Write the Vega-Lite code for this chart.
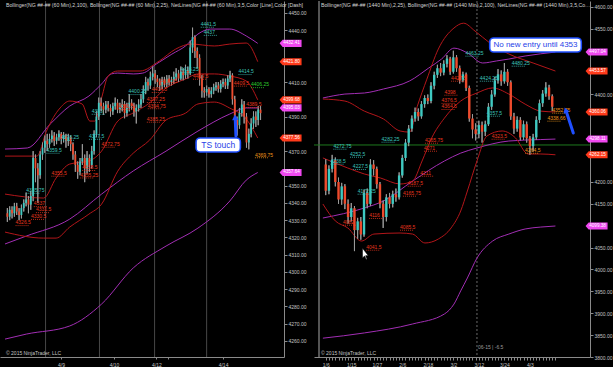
{
  "$schema": "https://vega.github.io/schema/vega-lite/v6.json",
  "background": "#000000",
  "padding": 0,
  "spacing": 6,
  "config": {
    "view": {"stroke": null, "fill": "#000000"},
    "axis": {"labelFont": "Liberation Sans", "labelFontSize": 5, "labelColor": "#c4c4c4", "domainColor": "#8a8a8a", "tickColor": "#8a8a8a", "grid": false, "labelOverlap": false, "labelSeparation": 0, "labelBound": false},
    "text": {"font": "Liberation Sans"}
  },
  "datasets": {
    "L": [
      {"i":0,"o":4334,"h":4337,"l":4329,"c":4332},{"i":1,"o":4332,"h":4338,"l":4330,"c":4336},{"i":2,"o":4336,"h":4338,"l":4331,"c":4334},{"i":3,"o":4334,"h":4340,"l":4332,"c":4338},{"i":4,"o":4338,"h":4340,"l":4333,"c":4335},{"i":5,"o":4335,"h":4337,"l":4330,"c":4333},{"i":6,"o":4333,"h":4339,"l":4331,"c":4337},{"i":7,"o":4337,"h":4342,"l":4335,"c":4340},{"i":8,"o":4340,"h":4346,"l":4338,"c":4342},{"i":9,"o":4342,"h":4344,"l":4334,"c":4339},
      {"i":10,"o":4339,"h":4347,"l":4336,"c":4344},{"i":11,"o":4344,"h":4370,"l":4341,"c":4366},{"i":12,"o":4366,"h":4368,"l":4352,"c":4360},{"i":13,"o":4360,"h":4363,"l":4340,"c":4356},{"i":14,"o":4356,"h":4370,"l":4354,"c":4368},{"i":15,"o":4368,"h":4375,"l":4365,"c":4372},{"i":16,"o":4372,"h":4379,"l":4369,"c":4376},{"i":17,"o":4376,"h":4380,"l":4370,"c":4374},{"i":18,"o":4374,"h":4380,"l":4372,"c":4377},{"i":19,"o":4377,"h":4382,"l":4375,"c":4379},
      {"i":20,"o":4379,"h":4381,"l":4373,"c":4376},{"i":21,"o":4376,"h":4380,"l":4374,"c":4378},{"i":22,"o":4378,"h":4382,"l":4376,"c":4380},{"i":23,"o":4380,"h":4381,"l":4374,"c":4377},{"i":24,"o":4377,"h":4381,"l":4375,"c":4379},{"i":25,"o":4379,"h":4380,"l":4372,"c":4376},{"i":26,"o":4376,"h":4380,"l":4373,"c":4378},{"i":27,"o":4378,"h":4379,"l":4370,"c":4374},{"i":28,"o":4374,"h":4375,"l":4365,"c":4368},{"i":29,"o":4368,"h":4370,"l":4358,"c":4362},
      {"i":30,"o":4362,"h":4364,"l":4354,"c":4358},{"i":31,"o":4358,"h":4366,"l":4356,"c":4364},{"i":32,"o":4364,"h":4374,"l":4362,"c":4366},{"i":33,"o":4366,"h":4368,"l":4352,"c":4360},{"i":34,"o":4360,"h":4370,"l":4357,"c":4366},{"i":35,"o":4366,"h":4368,"l":4358,"c":4362},{"i":36,"o":4362,"h":4373,"l":4360,"c":4370},{"i":37,"o":4370,"h":4382,"l":4368,"c":4380},{"i":38,"o":4380,"h":4393,"l":4378,"c":4390},{"i":39,"o":4390,"h":4401,"l":4388,"c":4398},
      {"i":40,"o":4398,"h":4401,"l":4393,"c":4396},{"i":41,"o":4396,"h":4398,"l":4391,"c":4394},{"i":42,"o":4394,"h":4399,"l":4392,"c":4397},{"i":43,"o":4397,"h":4399,"l":4393,"c":4395},{"i":44,"o":4395,"h":4397,"l":4390,"c":4393},{"i":45,"o":4393,"h":4398,"l":4391,"c":4396},{"i":46,"o":4396,"h":4401,"l":4394,"c":4398},{"i":47,"o":4398,"h":4400,"l":4392,"c":4394},{"i":48,"o":4394,"h":4398,"l":4392,"c":4395},{"i":49,"o":4395,"h":4400,"l":4393,"c":4397},
      {"i":50,"o":4397,"h":4399,"l":4389,"c":4392},{"i":51,"o":4392,"h":4398,"l":4390,"c":4395},{"i":52,"o":4395,"h":4403,"l":4393,"c":4398},{"i":53,"o":4398,"h":4400,"l":4394,"c":4396},{"i":54,"o":4396,"h":4398,"l":4390,"c":4393},{"i":55,"o":4393,"h":4397,"l":4386,"c":4395},{"i":56,"o":4395,"h":4400,"l":4393,"c":4397},{"i":57,"o":4397,"h":4403,"l":4395,"c":4400},{"i":58,"o":4400,"h":4408,"l":4398,"c":4405},{"i":59,"o":4405,"h":4413,"l":4403,"c":4410},
      {"i":60,"o":4410,"h":4412,"l":4405,"c":4408},{"i":61,"o":4408,"h":4416,"l":4406,"c":4413},{"i":62,"o":4413,"h":4419,"l":4411,"c":4415},{"i":63,"o":4415,"h":4417,"l":4409,"c":4412},{"i":64,"o":4412,"h":4414,"l":4407,"c":4410},{"i":65,"o":4410,"h":4412,"l":4405,"c":4408},{"i":66,"o":4408,"h":4413,"l":4406,"c":4411},{"i":67,"o":4411,"h":4413,"l":4407,"c":4409},{"i":68,"o":4409,"h":4414,"l":4407,"c":4412},{"i":69,"o":4412,"h":4414,"l":4408,"c":4410},
      {"i":70,"o":4410,"h":4413,"l":4408,"c":4411},{"i":71,"o":4411,"h":4416,"l":4409,"c":4413},{"i":72,"o":4413,"h":4418,"l":4411,"c":4415},{"i":73,"o":4415,"h":4417,"l":4410,"c":4412},{"i":74,"o":4412,"h":4419,"l":4411,"c":4416},{"i":75,"o":4416,"h":4418,"l":4411,"c":4414},{"i":76,"o":4414,"h":4420,"l":4412,"c":4417},{"i":77,"o":4417,"h":4419,"l":4412,"c":4415},{"i":78,"o":4415,"h":4434,"l":4414,"c":4430},{"i":79,"o":4430,"h":4441.5,"l":4427,"c":4436},
      {"i":80,"o":4436,"h":4437,"l":4424,"c":4428},{"i":81,"o":4428,"h":4430,"l":4418,"c":4424},{"i":82,"o":4424,"h":4426,"l":4408,"c":4412},{"i":83,"o":4412,"h":4414,"l":4401,"c":4405},{"i":84,"o":4405,"h":4407,"l":4401,"c":4404},{"i":85,"o":4404,"h":4408,"l":4402,"c":4406},{"i":86,"o":4406,"h":4407,"l":4401,"c":4403},{"i":87,"o":4403,"h":4407,"l":4401,"c":4405},{"i":88,"o":4405,"h":4409,"l":4403,"c":4407},{"i":89,"o":4407,"h":4410,"l":4405,"c":4408},
      {"i":90,"o":4408,"h":4410,"l":4404,"c":4406},{"i":91,"o":4406,"h":4411,"l":4404,"c":4409},{"i":92,"o":4409,"h":4412,"l":4407,"c":4410},{"i":93,"o":4410,"h":4412,"l":4406,"c":4408},{"i":94,"o":4408,"h":4414,"l":4406,"c":4412},{"i":95,"o":4412,"h":4416.5,"l":4410,"c":4414},{"i":96,"o":4414,"h":4415,"l":4397,"c":4400},{"i":97,"o":4400,"h":4402,"l":4385,"c":4388},{"i":98,"o":4388,"h":4390,"l":4379,"c":4385},{"i":99,"o":4385,"h":4395,"l":4383,"c":4392},
      {"i":100,"o":4392,"h":4400,"l":4390,"c":4397},{"i":101,"o":4397,"h":4399,"l":4386,"c":4390},{"i":102,"o":4390,"h":4392,"l":4372,"c":4375},{"i":103,"o":4375,"h":4383,"l":4371,"c":4380},{"i":104,"o":4380,"h":4389,"l":4378,"c":4386},{"i":105,"o":4386,"h":4393,"l":4383,"c":4390},{"i":106,"o":4390,"h":4393,"l":4384,"c":4388},{"i":107,"o":4388,"h":4396,"l":4385,"c":4394},{"i":108,"o":4394,"h":4396,"l":4388,"c":4392}
    ],
    "R": [
      {"i":0,"o":4240,"h":4252,"l":4170,"c":4180},{"i":1,"o":4180,"h":4238,"l":4172,"c":4230},{"i":2,"o":4230,"h":4262,"l":4222,"c":4250},{"i":3,"o":4250,"h":4256,"l":4190,"c":4200},{"i":4,"o":4200,"h":4210,"l":4150,"c":4160},{"i":5,"o":4160,"h":4198,"l":4148,"c":4190},{"i":6,"o":4190,"h":4195,"l":4138,"c":4150},{"i":7,"o":4150,"h":4160,"l":4105,"c":4120},{"i":8,"o":4120,"h":4152,"l":4110,"c":4140},{"i":9,"o":4140,"h":4145,"l":4042,"c":4090},
      {"i":10,"o":4090,"h":4118,"l":4070,"c":4110},{"i":11,"o":4110,"h":4120,"l":4068,"c":4080},{"i":12,"o":4080,"h":4182,"l":4075,"c":4175},{"i":13,"o":4175,"h":4185,"l":4140,"c":4150},{"i":14,"o":4150,"h":4252,"l":4145,"c":4240},{"i":15,"o":4240,"h":4250,"l":4215,"c":4230},{"i":16,"o":4230,"h":4235,"l":4185,"c":4195},{"i":17,"o":4195,"h":4200,"l":4140,"c":4150},{"i":18,"o":4150,"h":4158,"l":4095,"c":4120},{"i":19,"o":4120,"h":4172,"l":4110,"c":4165},
      {"i":20,"o":4165,"h":4175,"l":4140,"c":4150},{"i":21,"o":4150,"h":4180,"l":4142,"c":4172},{"i":22,"o":4172,"h":4185,"l":4155,"c":4165},{"i":23,"o":4165,"h":4222,"l":4160,"c":4215},{"i":24,"o":4215,"h":4262,"l":4210,"c":4255},{"i":25,"o":4255,"h":4298,"l":4248,"c":4290},{"i":26,"o":4290,"h":4330,"l":4282,"c":4322},{"i":27,"o":4322,"h":4352,"l":4315,"c":4345},{"i":28,"o":4345,"h":4370,"l":4338,"c":4360},{"i":29,"o":4360,"h":4368,"l":4340,"c":4350},
      {"i":30,"o":4350,"h":4385,"l":4345,"c":4378},{"i":31,"o":4378,"h":4398,"l":4370,"c":4392},{"i":32,"o":4392,"h":4400,"l":4378,"c":4385},{"i":33,"o":4385,"h":4428,"l":4380,"c":4420},{"i":34,"o":4420,"h":4452,"l":4412,"c":4445},{"i":35,"o":4445,"h":4468,"l":4438,"c":4460},{"i":36,"o":4460,"h":4472,"l":4442,"c":4450},{"i":37,"o":4450,"h":4478,"l":4444,"c":4470},{"i":38,"o":4470,"h":4490,"l":4462,"c":4482},{"i":39,"o":4482,"h":4486,"l":4445,"c":4452},
      {"i":40,"o":4452,"h":4500,"l":4448,"c":4485},{"i":41,"o":4485,"h":4490,"l":4452,"c":4460},{"i":42,"o":4460,"h":4466,"l":4425,"c":4432},{"i":43,"o":4432,"h":4452,"l":4428,"c":4446},{"i":44,"o":4446,"h":4450,"l":4408,"c":4415},{"i":45,"o":4415,"h":4420,"l":4338,"c":4345},{"i":46,"o":4345,"h":4355,"l":4300,"c":4320},{"i":47,"o":4320,"h":4334,"l":4295,"c":4310},{"i":48,"o":4310,"h":4340,"l":4300,"c":4330},{"i":49,"o":4330,"h":4338,"l":4290,"c":4315},
      {"i":50,"o":4315,"h":4340,"l":4305,"c":4332},{"i":51,"o":4332,"h":4380,"l":4328,"c":4372},{"i":52,"o":4372,"h":4410,"l":4365,"c":4400},{"i":53,"o":4400,"h":4440,"l":4395,"c":4432},{"i":54,"o":4432,"h":4458,"l":4425,"c":4446},{"i":55,"o":4446,"h":4455,"l":4420,"c":4430},{"i":56,"o":4430,"h":4472,"l":4425,"c":4452},{"i":57,"o":4452,"h":4458,"l":4420,"c":4428},{"i":58,"o":4428,"h":4432,"l":4342,"c":4350},{"i":59,"o":4350,"h":4358,"l":4310,"c":4322},
      {"i":60,"o":4322,"h":4350,"l":4315,"c":4342},{"i":61,"o":4342,"h":4348,"l":4295,"c":4302},{"i":62,"o":4302,"h":4340,"l":4296,"c":4332},{"i":63,"o":4332,"h":4338,"l":4290,"c":4300},{"i":64,"o":4300,"h":4305,"l":4262,"c":4282},{"i":65,"o":4282,"h":4310,"l":4270,"c":4302},{"i":66,"o":4302,"h":4350,"l":4296,"c":4342},{"i":67,"o":4342,"h":4388,"l":4335,"c":4380},{"i":68,"o":4380,"h":4410,"l":4372,"c":4402},{"i":69,"o":4402,"h":4428,"l":4395,"c":4416},
      {"i":70,"o":4416,"h":4422,"l":4388,"c":4396},{"i":71,"o":4396,"h":4400,"l":4362,"c":4372}
    ],
    "LB": [
      {"b":"pu","i":-1,"p":4371.2},{"b":"pu","i":8.5,"p":4371.8},{"b":"pu","i":18.3,"p":4385.7},{"b":"pu","i":26.6,"p":4396.1},{"b":"pu","i":34.8,"p":4401.9},{"b":"pu","i":40.2,"p":4408.9},{"b":"pu","i":44.3,"p":4414.7},{"b":"pu","i":47.1,"p":4415.2},{"b":"pu","i":53.7,"p":4414.7},{"b":"pu","i":57.8,"p":4415.2},{"b":"pu","i":63.6,"p":4420.5},{"b":"pu","i":70.2,"p":4426.2},{"b":"pu","i":76,"p":4430.9},{"b":"pu","i":81.3,"p":4437.8},{"b":"pu","i":86.7,"p":4440.7},{"b":"pu","i":94.9,"p":4440.7},{"b":"pu","i":101.9,"p":4436.7},{"b":"pu","i":106.8,"p":4432.4},
      {"b":"pm","i":-1,"p":4316.2},{"b":"pm","i":8.1,"p":4320.8},{"b":"pm","i":26.6,"p":4330.6},{"b":"pm","i":40.2,"p":4345.1},{"b":"pm","i":53.7,"p":4358.5},{"b":"pm","i":67.7,"p":4370.0},{"b":"pm","i":81.3,"p":4381.6},{"b":"pm","i":94.9,"p":4391.5},{"b":"pm","i":101.9,"p":4395.0},{"b":"pm","i":106.8,"p":4395.0},
      {"b":"pl","i":-1,"p":4261.1},{"b":"pl","i":8.1,"p":4264.0},{"b":"pl","i":26.6,"p":4268.7},{"b":"pl","i":40.2,"p":4281.4},{"b":"pl","i":53.7,"p":4302.3},{"b":"pl","i":67.7,"p":4315.0},{"b":"pl","i":81.3,"p":4325.4},{"b":"pl","i":94.9,"p":4341.1},{"b":"pl","i":101.9,"p":4353.2},{"b":"pl","i":106.8,"p":4357.6},
      {"b":"ru","i":-1,"p":4367.1},{"b":"ru","i":12.6,"p":4367.1},{"b":"ru","i":16.7,"p":4381.6},{"b":"ru","i":22.5,"p":4395.0},{"b":"ru","i":26.6,"p":4399.0},{"b":"ru","i":31.9,"p":4397.3},{"b":"ru","i":35.2,"p":4387.4},{"b":"ru","i":37.3,"p":4387.4},{"b":"ru","i":40.2,"p":4400.8},{"b":"ru","i":43.0,"p":4413.5},{"b":"ru","i":47.1,"p":4416.4},{"b":"ru","i":56.6,"p":4416.4},{"b":"ru","i":64.8,"p":4422.2},{"b":"ru","i":71.8,"p":4429.1},{"b":"ru","i":78.4,"p":4432.0},{"b":"ru","i":88.3,"p":4430.9},{"b":"ru","i":94.9,"p":4432.0},{"b":"ru","i":101.9,"p":4432.6},{"b":"ru","i":106.8,"p":4421.8},
      {"b":"rm","i":-1,"p":4345.1},{"b":"rm","i":15.5,"p":4342.8},{"b":"rm","i":20.8,"p":4354.4},{"b":"rm","i":26.6,"p":4362.5},{"b":"rm","i":34.8,"p":4364.3},{"b":"rm","i":40.2,"p":4370.0},{"b":"rm","i":47.1,"p":4387.4},{"b":"rm","i":53.7,"p":4392.1},{"b":"rm","i":60.7,"p":4397.9},{"b":"rm","i":67.7,"p":4406.5},{"b":"rm","i":76.0,"p":4411.8},{"b":"rm","i":81.3,"p":4414.7},{"b":"rm","i":88.3,"p":4414.7},{"b":"rm","i":94.9,"p":4413.5},{"b":"rm","i":101.9,"p":4410.6},{"b":"rm","i":106.8,"p":4399.7},
      {"b":"rl","i":-1,"p":4323.1},{"b":"rl","i":15.5,"p":4319.6},{"b":"rl","i":20.8,"p":4319.6},{"b":"rl","i":26.6,"p":4326.0},{"b":"rl","i":34.8,"p":4333.5},{"b":"rl","i":40.2,"p":4339.3},{"b":"rl","i":47.1,"p":4358.4},{"b":"rl","i":53.7,"p":4368.8},{"b":"rl","i":60.7,"p":4376.4},{"b":"rl","i":67.7,"p":4388.0},{"b":"rl","i":76.0,"p":4392.0},{"b":"rl","i":81.3,"p":4397.3},{"b":"rl","i":88.3,"p":4398.4},{"b":"rl","i":94.9,"p":4394.9},{"b":"rl","i":101.9,"p":4388.6},{"b":"rl","i":106.8,"p":4377.6}
    ],
    "RB": [
      {"b":"pu","i":-0.9,"p":4392},{"b":"pu","i":6,"p":4401},{"b":"pu","i":12.1,"p":4403.4},{"b":"pu","i":18.1,"p":4412.6},{"b":"pu","i":26.3,"p":4431},{"b":"pu","i":32.3,"p":4460.6},{"b":"pu","i":36.3,"p":4481},{"b":"pu","i":40.2,"p":4506},{"b":"pu","i":44.4,"p":4495},{"b":"pu","i":49.2,"p":4472},{"b":"pu","i":53.5,"p":4476.6},{"b":"pu","i":57.4,"p":4481},{"b":"pu","i":62.5,"p":4488},{"b":"pu","i":67.4,"p":4493},{"b":"pu","i":72,"p":4497},
      {"b":"pm","i":-0.9,"p":4117.7},{"b":"pm","i":12.1,"p":4140.6},{"b":"pm","i":18.1,"p":4156.6},{"b":"pm","i":27.2,"p":4202},{"b":"pm","i":37.2,"p":4248},{"b":"pm","i":42.3,"p":4266},{"b":"pm","i":47.4,"p":4277.7},{"b":"pm","i":57.4,"p":4293.7},{"b":"pm","i":67.4,"p":4297},{"b":"pm","i":72,"p":4298.1},
      {"b":"pl","i":-0.9,"p":3843},{"b":"pl","i":12.1,"p":3855},{"b":"pl","i":27.2,"p":3875.4},{"b":"pl","i":37.2,"p":3898.3},{"b":"pl","i":40.2,"p":3921},{"b":"pl","i":42.3,"p":3951},{"b":"pl","i":44.4,"p":3980.6},{"b":"pl","i":47.4,"p":4026},{"b":"pl","i":52.3,"p":4065},{"b":"pl","i":57.4,"p":4081},{"b":"pl","i":62.5,"p":4092.6},{"b":"pl","i":67.4,"p":4097},{"b":"pl","i":72,"p":4099.4},
      {"b":"ru","i":-0.9,"p":4389.7},{"b":"ru","i":6,"p":4385},{"b":"ru","i":12.1,"p":4362},{"b":"ru","i":18.1,"p":4344},{"b":"ru","i":23.3,"p":4316.6},{"b":"ru","i":26.3,"p":4314},{"b":"ru","i":28.7,"p":4373},{"b":"ru","i":31.7,"p":4435},{"b":"ru","i":35.3,"p":4504},{"b":"ru","i":40.2,"p":4552},{"b":"ru","i":43.2,"p":4563},{"b":"ru","i":46.8,"p":4545},{"b":"ru","i":51.4,"p":4518},{"b":"ru","i":57.4,"p":4492.6},{"b":"ru","i":65,"p":4472},{"b":"ru","i":72,"p":4453.6},
      {"b":"rm","i":-0.9,"p":4255},{"b":"rm","i":6.9,"p":4232},{"b":"rm","i":12.1,"p":4218.3},{"b":"rm","i":17.2,"p":4209},{"b":"rm","i":23.3,"p":4195.4},{"b":"rm","i":27.2,"p":4202},{"b":"rm","i":30.2,"p":4248},{"b":"rm","i":33.2,"p":4300.6},{"b":"rm","i":37.2,"p":4346},{"b":"rm","i":42.3,"p":4385},{"b":"rm","i":47.4,"p":4403.4},{"b":"rm","i":52.3,"p":4415},{"b":"rm","i":57.4,"p":4401},{"b":"rm","i":62.5,"p":4378},{"b":"rm","i":67.4,"p":4362},{"b":"rm","i":72,"p":4360.1},
      {"b":"rl","i":-0.9,"p":4149.7},{"b":"rl","i":3,"p":4111},{"b":"rl","i":6.9,"p":4095},{"b":"rl","i":11.2,"p":4065},{"b":"rl","i":15.1,"p":4081},{"b":"rl","i":23.3,"p":4083.4},{"b":"rl","i":27.2,"p":4081},{"b":"rl","i":31.1,"p":4060.6},{"b":"rl","i":35.3,"p":4069.7},{"b":"rl","i":39.3,"p":4095},{"b":"rl","i":42.3,"p":4133.7},{"b":"rl","i":44.4,"p":4179.4},{"b":"rl","i":47.4,"p":4248},{"b":"rl","i":50.5,"p":4305},{"b":"rl","i":55.3,"p":4316.6},{"b":"rl","i":59.5,"p":4300.6},{"b":"rl","i":63.4,"p":4264},{"b":"rl","i":67.4,"p":4264},{"b":"rl","i":72,"p":4262.2}
    ],
    "LT": [
      {"i":82.5,"p":4443.6,"t":"4441.5","k":"c"},{"i":83.8,"p":4438.9,"t":"4437","k":"c"},{"i":73.9,"p":4417.4,"t":"4416.25","k":"c"},{"i":98.6,"p":4416.2,"t":"4414.5","k":"c"},{"i":79.2,"p":4413.5,"t":"4419.5","k":"r"},{"i":64.8,"p":4410.6,"t":"4408.25","k":"r"},{"i":96.6,"p":4409.5,"t":"4409.5","k":"r"},{"i":103.9,"p":4408.6,"t":"4406.25","k":"g"},{"i":61.6,"p":4405.8,"t":"4404.5","k":"r"},{"i":51.7,"p":4404.6,"t":"4400.25","k":"c"},
      {"i":59.5,"p":4400.0,"t":"4397.25","k":"r"},{"i":59.9,"p":4396.4,"t":"4394.75","k":"r"},{"i":47.6,"p":4395.9,"t":"4391.5","k":"r"},{"i":101.9,"p":4397.1,"t":"4389.5","k":"r"},{"i":36.0,"p":4393.2,"t":"4383","k":"c"},{"i":59.5,"p":4388.6,"t":"4385.25","k":"r"},{"i":16.7,"p":4370.6,"t":"4359.5","k":"c"},{"i":22.9,"p":4378.1,"t":"4376.25","k":"c"},{"i":34.8,"p":4378.7,"t":"4377.5","k":"c"},{"i":40.2,"p":4374.1,"t":"4372.75","k":"r"},
      {"i":18.8,"p":4357.3,"t":"4355.5","k":"r"},{"i":31.9,"p":4360.6,"t":"4358.5","k":"r"},{"i":31.1,"p":4356.3,"t":"4355.25","k":"r"},{"i":8.1,"p":4347.4,"t":"4335.75","k":"c"},{"i":11.3,"p":4339.7,"t":"4337","k":"r"},{"i":12.2,"p":4336.2,"t":"4331.5","k":"r"},{"i":10.1,"p":4332.3,"t":"4330.5","k":"r"},{"i":3.5,"p":4328.7,"t":"4326.5","k":"r"},{"i":105.6,"p":4368.0,"t":"4369.75","k":"o"}
    ],
    "RT": [
      {"i":43.8,"p":4494.9,"t":"4463.25","k":"c"},{"i":58.3,"p":4472,"t":"4480.25","k":"c"},{"i":48.3,"p":4437.7,"t":"4424.25","k":"c"},{"i":50.5,"p":4357.7,"t":"4357.5","k":"c"},{"i":37.2,"p":4405.7,"t":"4398","k":"r"},{"i":36.3,"p":4387,"t":"4376.5","k":"r"},{"i":36.3,"p":4373,"t":"4364.5","k":"r"},{"i":39.3,"p":4437.7,"t":"4427.5","k":"r"},{"i":17.5,"p":4298.3,"t":"4282.25","k":"c"},{"i":31.1,"p":4296,"t":"4265.75","k":"r"},
      {"i":30.8,"p":4277.7,"t":"4271","k":"r"},{"i":2.4,"p":4282.3,"t":"4272.75","k":"c"},{"i":1.5,"p":4248,"t":"4238.5","k":"c"},{"i":8.5,"p":4236,"t":"4227.5","k":"c"},{"i":7.6,"p":4264,"t":"4252.5","k":"c"},{"i":29.6,"p":4220.6,"t":"4211","k":"r"},{"i":25.7,"p":4197.7,"t":"4187.5","k":"r"},{"i":24.2,"p":4174.9,"t":"4165.75","k":"r"},{"i":10,"p":4179.4,"t":"4172.25","k":"c"},{"i":23.3,"p":4097.1,"t":"4085.5","k":"r"},
      {"i":12.7,"p":4051.4,"t":"4041.5","k":"r"},{"i":5.4,"p":4108.6,"t":"4082","k":"r"},{"i":13.6,"p":4124,"t":"4116","k":"r"},{"i":71,"p":4364.6,"t":"4352.75","k":"o"},{"i":69.5,"p":4346.3,"t":"4338.66","k":"o"},{"i":52,"p":4305.1,"t":"4323.5","k":"r"},{"i":62.5,"p":4273.1,"t":"4264.5","k":"o"}
    ],
    "LG": [
      {"p":4432.41,"t":"4432.41","k":"m"},{"p":4421.80,"t":"4421.80","k":"r"},{"p":4399.68,"t":"4399.68","k":"r"},{"p":4395.03,"t":"4395.03","k":"m"},{"p":4377.56,"t":"4377.56","k":"r"},{"p":4357.64,"t":"4357.64","k":"m"}
    ],
    "RG": [
      {"p":4497.04,"t":"4497.04","k":"m"},{"p":4453.57,"t":"4453.57","k":"r"},{"p":4360.06,"t":"4360.06","k":"r"},{"p":4298.11,"t":"4298.11","k":"m"},{"p":4262.15,"t":"4262.15","k":"r"},{"p":4099.38,"t":"4099.38","k":"m"}
    ]
  },
  "hconcat": [
    {
      "width": 284,
      "height": 356,
      "resolve": {"scale": {"fill": "independent", "stroke": "independent"}},
      "layer": [
        {
          "data": {"name": "L"},
          "mark": {"type": "rule", "color": "#9a9a9a", "strokeWidth": 1},
          "encoding": {
            "x": {"field": "i", "type": "quantitative", "scale": {"domain": [-1, 115.87], "nice": false, "zero": false},
              "axis": {"orient": "bottom", "title": null, "values": [22.9, 45.5, 63.6, 68.5, 92], "tickCount": 200, "labelExpr": "datum.value == 22.9 ? '4/9' : datum.value == 45.5 ? '4/10' : datum.value == 63.6 ? '4/12' : datum.value == 92 ? '4/14' : ''", "tickSize": 2, "labelPadding": 3, "labelOverlap": false, "labelFlush": false}},
            "y": {"field": "l", "type": "quantitative", "scale": {"domain": [4250.73, 4456.95], "nice": false, "zero": false},
              "axis": {"orient": "right", "title": null, "values": [4260, 4270, 4280, 4290, 4300, 4310, 4320, 4330, 4340, 4350, 4370, 4390, 4410, 4440, 4450], "tickCount": 200, "format": ".2f", "tickSize": 3, "labelPadding": 1, "labelOverlap": false, "labelFlush": false}},
            "y2": {"field": "h"}
          }
        },
        {
          "data": {"values": [{"i": 16.3}, {"i": 39.3}, {"i": 62.8}, {"i": 85.0}]},
          "mark": {"type": "rule", "color": "#474747", "strokeWidth": 1},
          "encoding": {"x": {"field": "i", "type": "quantitative", "scale": {"domain": [-1, 115.87], "nice": false, "zero": false}}}
        },
        {
          "data": {"name": "LB"},
          "mark": {"type": "line", "strokeWidth": 1, "interpolate": "monotone"},
          "encoding": {
            "x": {"field": "i", "type": "quantitative", "scale": {"domain": [-1, 115.87], "nice": false, "zero": false}},
            "y": {"field": "p", "type": "quantitative", "scale": {"domain": [4250.73, 4456.95], "nice": false, "zero": false}},
            "stroke": {"field": "b", "type": "nominal", "scale": {"domain": ["pu", "pm", "pl", "ru", "rm", "rl"], "range": ["#a22eb4", "#a22eb4", "#a22eb4", "#b3161a", "#b3161a", "#b3161a"]}, "legend": null}
          }
        },
        {
          "data": {"name": "L"},
          "mark": {"type": "rule", "color": "#9a9a9a", "strokeWidth": 1},
          "encoding": {
            "x": {"field": "i", "type": "quantitative", "scale": {"domain": [-1, 115.87], "nice": false, "zero": false}},
            "y": {"field": "l", "type": "quantitative", "scale": {"domain": [4250.73, 4456.95], "nice": false, "zero": false}},
            "y2": {"field": "h"}
          }
        },
        {
          "data": {"name": "L"},
          "mark": {"type": "bar", "size": 1.8},
          "encoding": {
            "x": {"field": "i", "type": "quantitative", "scale": {"domain": [-1, 115.87], "nice": false, "zero": false}},
            "y": {"field": "o", "type": "quantitative", "scale": {"domain": [4250.73, 4456.95], "nice": false, "zero": false}},
            "y2": {"field": "c"},
            "color": {"condition": {"test": "datum.c >= datum.o", "value": "#3ec9c1"}, "value": "#ee4a2c"}
          }
        },
        {
          "data": {"name": "LT"},
          "mark": {"type": "rule", "strokeWidth": 0.8, "strokeDash": [1, 1], "x2Offset": 14, "yOffset": 3.2},
          "encoding": {
            "x": {"field": "i", "type": "quantitative", "scale": {"domain": [-1, 115.87], "nice": false, "zero": false}},
            "x2": {"field": "i"},
            "y": {"field": "p", "type": "quantitative", "scale": {"domain": [4250.73, 4456.95], "nice": false, "zero": false}},
            "stroke": {"field": "k", "type": "nominal", "scale": {"domain": ["c", "r", "o", "g"], "range": ["#3cc4bc", "#e8361e", "#f0961a", "#2ecc2e"]}, "legend": null}
          }
        },
        {
          "data": {"name": "LT"},
          "mark": {"type": "text", "fontSize": 5, "align": "left", "baseline": "middle"},
          "encoding": {
            "x": {"field": "i", "type": "quantitative", "scale": {"domain": [-1, 115.87], "nice": false, "zero": false}},
            "y": {"field": "p", "type": "quantitative", "scale": {"domain": [4250.73, 4456.95], "nice": false, "zero": false}},
            "text": {"field": "t"},
            "fill": {"field": "k", "type": "nominal", "scale": {"domain": ["c", "r", "o", "g"], "range": ["#3cc4bc", "#e8361e", "#f0961a", "#2ecc2e"]}, "legend": null}
          }
        },
        {
          "data": {"name": "LG"},
          "mark": {"type": "point", "shape": "M-1,0L-0.72,-0.32L1,-0.32L1,0.32L-0.72,0.32Z", "size": 484, "filled": true, "opacity": 1, "strokeWidth": 0},
          "encoding": {
            "x": {"datum": 120.8, "type": "quantitative", "scale": {"domain": [-1, 115.87], "nice": false, "zero": false}},
            "y": {"field": "p", "type": "quantitative", "scale": {"domain": [4250.73, 4456.95], "nice": false, "zero": false}},
            "fill": {"field": "k", "type": "nominal", "scale": {"domain": ["m", "r"], "range": ["#f048f0", "#ff3a1a"]}, "legend": null}
          }
        },
        {
          "data": {"name": "LG"},
          "mark": {"type": "text", "fontSize": 4.6, "align": "center", "baseline": "middle", "color": "#ffffff"},
          "encoding": {
            "x": {"datum": 121.2, "type": "quantitative", "scale": {"domain": [-1, 115.87], "nice": false, "zero": false}},
            "y": {"field": "p", "type": "quantitative", "scale": {"domain": [4250.73, 4456.95], "nice": false, "zero": false}},
            "text": {"field": "t"}
          }
        },
        {
          "data": {"values": [{}]},
          "mark": {"type": "rule", "color": "#1f4fff", "strokeWidth": 3, "strokeCap": "round"},
          "encoding": {
            "x": {"datum": 97.5, "type": "quantitative", "scale": {"domain": [-1, 115.87], "nice": false, "zero": false}},
            "y": {"datum": 4378.7, "type": "quantitative", "scale": {"domain": [4250.73, 4456.95], "nice": false, "zero": false}},
            "x2": {"datum": 97.2},
            "y2": {"datum": 4388.5}
          }
        },
        {
          "data": {"values": [{}]},
          "mark": {"type": "point", "shape": "triangle-up", "size": 40, "filled": true, "color": "#1f4fff", "opacity": 1, "angle": -3},
          "encoding": {
            "x": {"datum": 97.15, "type": "quantitative", "scale": {"domain": [-1, 115.87], "nice": false, "zero": false}},
            "y": {"datum": 4389.6, "type": "quantitative", "scale": {"domain": [4250.73, 4456.95], "nice": false, "zero": false}}
          }
        },
        {
          "data": {"values": [{}]},
          "mark": {"type": "rect", "fill": "#ffffff", "stroke": "#1f4fff", "strokeWidth": 1.6, "cornerRadius": 4},
          "encoding": {
            "x": {"datum": 80.5, "type": "quantitative", "scale": {"domain": [-1, 115.87], "nice": false, "zero": false}},
            "x2": {"datum": 99.4},
            "y": {"datum": 4377.6, "type": "quantitative", "scale": {"domain": [4250.73, 4456.95], "nice": false, "zero": false}},
            "y2": {"datum": 4369.5}
          }
        },
        {
          "data": {"values": [{}]},
          "mark": {"type": "text", "text": "TS touch", "fontSize": 8.5, "color": "#1f3fe8", "align": "center", "baseline": "middle"},
          "encoding": {
            "x": {"datum": 89.95, "type": "quantitative", "scale": {"domain": [-1, 115.87], "nice": false, "zero": false}},
            "y": {"datum": 4373.5, "type": "quantitative", "scale": {"domain": [4250.73, 4456.95], "nice": false, "zero": false}}
          }
        },
        {
          "data": {"values": [{}]},
          "mark": {"type": "text", "text": "Bollinger(NG ##-## (60 Min),2,100), Bollinger(NG ##-## (60 Min),2,25), NetLines(NG ##-## (60 Min),3,5,Color [Line],Color [Dash]", "fontSize": 5.2, "color": "#d4d4d4", "align": "left", "baseline": "top", "dx": 1, "dy": 2, "limit": 304, "ellipsis": ""},
          "encoding": {
            "x": {"datum": -1, "type": "quantitative", "scale": {"domain": [-1, 115.87], "nice": false, "zero": false}},
            "y": {"datum": 4456.95, "type": "quantitative", "scale": {"domain": [4250.73, 4456.95], "nice": false, "zero": false}}
          }
        },
        {
          "data": {"values": [{}]},
          "mark": {"type": "text", "text": "© 2015 NinjaTrader, LLC", "fontSize": 5, "color": "#c4c4c4", "align": "left", "baseline": "bottom", "dx": 1, "dy": -1},
          "encoding": {
            "x": {"datum": -1, "type": "quantitative", "scale": {"domain": [-1, 115.87], "nice": false, "zero": false}},
            "y": {"datum": 4250.73, "type": "quantitative", "scale": {"domain": [4250.73, 4456.95], "nice": false, "zero": false}}
          }
        }
      ]
    },
    {
      "width": 276,
      "height": 356,
      "resolve": {"scale": {"fill": "independent", "stroke": "independent"}},
      "layer": [
        {
          "data": {"name": "R"},
          "mark": {"type": "rule", "color": "#9a9a9a", "strokeWidth": 1},
          "encoding": {
            "x": {"field": "i", "type": "quantitative", "scale": {"domain": [-2.115, 81.27], "nice": false, "zero": false},
              "axis": {"orient": "bottom", "title": null, "values": [0,1,2,3,4,5,6,7,8,9,10,11,12,13,14,15,16,17,18,19,20,21,22,23,24,25,26,27,28,29,30,31,32,33,34,35,36,37,38,39,40,41,42,43,44,45,46,47,48,49,50,51,52,53,54,55,56,57,58,59,60,61,62,63,64,65,66,67,68,69,70,71,72], "tickCount": 500, "labelExpr": "datum.value == 0 ? '1/6' : datum.value == 8 ? '1/15' : datum.value == 16 ? '1/27' : datum.value == 24 ? '2/6' : datum.value == 32 ? '2/18' : datum.value == 40 ? '3/2' : datum.value == 48 ? '3/12' : datum.value == 56 ? '3/24' : datum.value == 64 ? '4/3' : ''", "tickSize": 3, "labelPadding": 2, "labelOverlap": false, "labelFlush": false}},
            "y": {"field": "l", "type": "quantitative", "scale": {"domain": [3800, 4613.7], "nice": false, "zero": false},
              "axis": {"orient": "right", "title": null, "values": [3800, 3850, 3900, 3950, 4000, 4050, 4150, 4200, 4400, 4550, 4600], "tickCount": 200, "format": ".2f", "tickSize": 3, "labelPadding": 1, "labelOverlap": false, "labelFlush": false}},
            "y2": {"field": "h"}
          }
        },
        {
          "data": {"values": [{}]},
          "mark": {"type": "rule", "color": "#a8a8a8", "strokeWidth": 1},
          "encoding": {"x": {"datum": -2.115, "type": "quantitative", "scale": {"domain": [-2.115, 81.27], "nice": false, "zero": false}}}
        },
        {
          "data": {"values": [{}]},
          "mark": {"type": "rule", "color": "#6a6a6a", "strokeWidth": 1, "strokeDash": [2, 2]},
          "encoding": {"x": {"datum": 47.4, "type": "quantitative", "scale": {"domain": [-2.115, 81.27], "nice": false, "zero": false}}}
        },
        {
          "data": {"values": [{}]},
          "mark": {"type": "rule", "color": "#1e7a1e", "strokeWidth": 1},
          "encoding": {"y": {"datum": 4284.6, "type": "quantitative", "scale": {"domain": [3800, 4613.7], "nice": false, "zero": false}}}
        },
        {
          "data": {"name": "RB"},
          "mark": {"type": "line", "strokeWidth": 1, "interpolate": "monotone"},
          "encoding": {
            "x": {"field": "i", "type": "quantitative", "scale": {"domain": [-2.115, 81.27], "nice": false, "zero": false}},
            "y": {"field": "p", "type": "quantitative", "scale": {"domain": [3800, 4613.7], "nice": false, "zero": false}},
            "stroke": {"field": "b", "type": "nominal", "scale": {"domain": ["pu", "pm", "pl", "ru", "rm", "rl"], "range": ["#a22eb4", "#a22eb4", "#a22eb4", "#b3161a", "#b3161a", "#b3161a"]}, "legend": null}
          }
        },
        {
          "data": {"name": "R"},
          "mark": {"type": "rule", "color": "#9a9a9a", "strokeWidth": 1},
          "encoding": {
            "x": {"field": "i", "type": "quantitative", "scale": {"domain": [-2.115, 81.27], "nice": false, "zero": false}},
            "y": {"field": "l", "type": "quantitative", "scale": {"domain": [3800, 4613.7], "nice": false, "zero": false}},
            "y2": {"field": "h"}
          }
        },
        {
          "data": {"name": "R"},
          "mark": {"type": "bar", "size": 2.4},
          "encoding": {
            "x": {"field": "i", "type": "quantitative", "scale": {"domain": [-2.115, 81.27], "nice": false, "zero": false}},
            "y": {"field": "o", "type": "quantitative", "scale": {"domain": [3800, 4613.7], "nice": false, "zero": false}},
            "y2": {"field": "c"},
            "color": {"condition": {"test": "datum.c >= datum.o", "value": "#3ec9c1"}, "value": "#ee4a2c"}
          }
        },
        {
          "data": {"name": "RT"},
          "mark": {"type": "rule", "strokeWidth": 0.8, "strokeDash": [1, 1], "x2Offset": 14, "yOffset": 3.2},
          "encoding": {
            "x": {"field": "i", "type": "quantitative", "scale": {"domain": [-2.115, 81.27], "nice": false, "zero": false}},
            "x2": {"field": "i"},
            "y": {"field": "p", "type": "quantitative", "scale": {"domain": [3800, 4613.7], "nice": false, "zero": false}},
            "stroke": {"field": "k", "type": "nominal", "scale": {"domain": ["c", "r", "o", "g"], "range": ["#3cc4bc", "#e8361e", "#f0961a", "#2ecc2e"]}, "legend": null}
          }
        },
        {
          "data": {"name": "RT"},
          "mark": {"type": "text", "fontSize": 5, "align": "left", "baseline": "middle"},
          "encoding": {
            "x": {"field": "i", "type": "quantitative", "scale": {"domain": [-2.115, 81.27], "nice": false, "zero": false}},
            "y": {"field": "p", "type": "quantitative", "scale": {"domain": [3800, 4613.7], "nice": false, "zero": false}},
            "text": {"field": "t"},
            "fill": {"field": "k", "type": "nominal", "scale": {"domain": ["c", "r", "o", "g"], "range": ["#3cc4bc", "#e8361e", "#f0961a", "#2ecc2e"]}, "legend": null}
          }
        },
        {
          "data": {"name": "RG"},
          "mark": {"type": "point", "shape": "M-1,0L-0.72,-0.32L1,-0.32L1,0.32L-0.72,0.32Z", "size": 484, "filled": true, "opacity": 1, "strokeWidth": 0},
          "encoding": {
            "x": {"datum": 84.9, "type": "quantitative", "scale": {"domain": [-2.115, 81.27], "nice": false, "zero": false}},
            "y": {"field": "p", "type": "quantitative", "scale": {"domain": [3800, 4613.7], "nice": false, "zero": false}},
            "fill": {"field": "k", "type": "nominal", "scale": {"domain": ["m", "r"], "range": ["#f048f0", "#ff3a1a"]}, "legend": null}
          }
        },
        {
          "data": {"name": "RG"},
          "mark": {"type": "text", "fontSize": 4.6, "align": "center", "baseline": "middle", "color": "#ffffff"},
          "encoding": {
            "x": {"datum": 85.2, "type": "quantitative", "scale": {"domain": [-2.115, 81.27], "nice": false, "zero": false}},
            "y": {"field": "p", "type": "quantitative", "scale": {"domain": [3800, 4613.7], "nice": false, "zero": false}},
            "text": {"field": "t"}
          }
        },
        {
          "data": {"values": [{}]},
          "mark": {"type": "rule", "color": "#1f4fff", "strokeWidth": 3, "strokeCap": "round"},
          "encoding": {
            "x": {"datum": 77.6, "type": "quantitative", "scale": {"domain": [-2.115, 81.27], "nice": false, "zero": false}},
            "y": {"datum": 4312, "type": "quantitative", "scale": {"domain": [3800, 4613.7], "nice": false, "zero": false}},
            "x2": {"datum": 75.4},
            "y2": {"datum": 4361}
          }
        },
        {
          "data": {"values": [{}]},
          "mark": {"type": "point", "shape": "triangle-up", "size": 40, "filled": true, "color": "#1f4fff", "opacity": 1, "angle": -19},
          "encoding": {
            "x": {"datum": 75.2, "type": "quantitative", "scale": {"domain": [-2.115, 81.27], "nice": false, "zero": false}},
            "y": {"datum": 4364.5, "type": "quantitative", "scale": {"domain": [3800, 4613.7], "nice": false, "zero": false}}
          }
        },
        {
          "data": {"values": [{}]},
          "mark": {"type": "point", "shape": "M0,-1L0,0.62L0.36,0.3L0.6,0.86L0.76,0.79L0.53,0.24L0.96,0.24Z", "size": 150, "filled": true, "color": "#ffffff", "stroke": "#000000", "strokeWidth": 0.6, "opacity": 1},
          "encoding": {
            "x": {"datum": 11.5, "type": "quantitative", "scale": {"domain": [-2.115, 81.27], "nice": false, "zero": false}},
            "y": {"datum": 4035, "type": "quantitative", "scale": {"domain": [3800, 4613.7], "nice": false, "zero": false}}
          }
        },
        {
          "data": {"values": [{}]},
          "mark": {"type": "rect", "fill": "#ffffff", "stroke": "#1f4fff", "strokeWidth": 1.6, "cornerRadius": 4},
          "encoding": {
            "x": {"datum": 51.4, "type": "quantitative", "scale": {"domain": [-2.115, 81.27], "nice": false, "zero": false}},
            "x2": {"datum": 80.1},
            "y": {"datum": 4529.1, "type": "quantitative", "scale": {"domain": [3800, 4613.7], "nice": false, "zero": false}},
            "y2": {"datum": 4497.1}
          }
        },
        {
          "data": {"values": [{}]},
          "mark": {"type": "text", "text": "No new entry until 4353", "fontSize": 8, "color": "#1f3fe8", "align": "center", "baseline": "middle"},
          "encoding": {
            "x": {"datum": 65.75, "type": "quantitative", "scale": {"domain": [-2.115, 81.27], "nice": false, "zero": false}},
            "y": {"datum": 4513.1, "type": "quantitative", "scale": {"domain": [3800, 4613.7], "nice": false, "zero": false}}
          }
        },
        {
          "data": {"values": [{}]},
          "mark": {"type": "text", "text": "06-15 | -6.5", "fontSize": 5, "color": "#9a9a9a", "align": "left", "baseline": "middle"},
          "encoding": {
            "x": {"datum": 47.7, "type": "quantitative", "scale": {"domain": [-2.115, 81.27], "nice": false, "zero": false}},
            "y": {"datum": 3823, "type": "quantitative", "scale": {"domain": [3800, 4613.7], "nice": false, "zero": false}}
          }
        },
        {
          "data": {"values": [{}]},
          "mark": {"type": "text", "text": "Bollinger(NG ##-## (1440 Min),2,25), Bollinger(NG ##-## (1440 Min),2,100), NetLines(NG ##-## (1440 Min),3,5,Color [Line]", "fontSize": 5.2, "color": "#d4d4d4", "align": "left", "baseline": "top", "dx": 2, "dy": 2, "limit": 270, "ellipsis": ""},
          "encoding": {
            "x": {"datum": -2.115, "type": "quantitative", "scale": {"domain": [-2.115, 81.27], "nice": false, "zero": false}},
            "y": {"datum": 4613.7, "type": "quantitative", "scale": {"domain": [3800, 4613.7], "nice": false, "zero": false}}
          }
        },
        {
          "data": {"values": [{}]},
          "mark": {"type": "text", "text": "© 2015 NinjaTrader, LLC", "fontSize": 5, "color": "#c4c4c4", "align": "left", "baseline": "bottom", "dx": 2, "dy": -1},
          "encoding": {
            "x": {"datum": -2.115, "type": "quantitative", "scale": {"domain": [-2.115, 81.27], "nice": false, "zero": false}},
            "y": {"datum": 3800, "type": "quantitative", "scale": {"domain": [3800, 4613.7], "nice": false, "zero": false}}
          }
        }
      ]
    }
  ]
}
